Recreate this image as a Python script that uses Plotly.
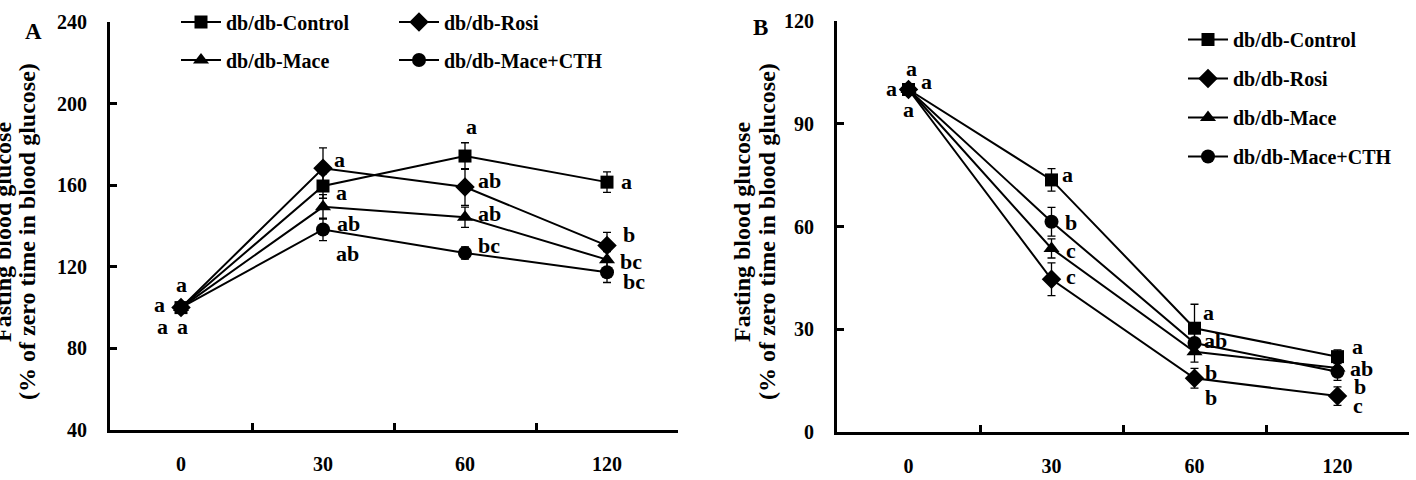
import plotly.graph_objects as go

W, H = 1416, 480
FONT = "Liberation Serif"

times = ["0", "30", "60", "120"]
series = ["db/db-Control", "db/db-Rosi", "db/db-Mace", "db/db-Mace+CTH"]
symbols = ["square", "diamond", "triangle-up", "circle"]
msizes = [13, 15, 14, 14]

# Panel A values (% of zero time)
a_control = [100, 159.6, 174.3, 161.5]
a_rosi = [100, 168.3, 159.1, 130.4]
a_mace = [100, 149.4, 144.3, 123.5]
a_cth = [100, 138.3, 126.8, 117.3]
a_err_control = [0, 6, 6.5, 5]
a_err_rosi = [0, 10, 9, 6.5]
a_err_mace = [0, 6, 5, 4]
a_err_cth = [0, 5.5, 3, 5]

# Panel B values (% of zero time)
b_control = [100, 73.6, 30.3, 22.0]
b_rosi = [100, 44.6, 15.7, 10.5]
b_mace = [100, 53.6, 23.4, 18.7]
b_cth = [100, 61.4, 26.0, 17.6]
b_err_control = [0, 3.3, 7, 2]
b_err_rosi = [0, 4.8, 2.9, 2.7]
b_err_mace = [0, 2.8, 3, 2]
b_err_cth = [0, 4.2, 3, 2.5]

# significance letters
a_letters = [["a", "a", "a", "a"], ["a", "a", "ab", "b"], ["a", "ab", "ab", "bc"], ["a", "ab", "bc", "bc"]]
b_letters = [["a", "a", "a", "a"], ["a", "c", "b", "c"], ["a", "c", "b", "b"], ["a", "b", "ab", "ab"]]

# letter offsets (px, dy downward) relative to each point
a_off = [[(0, -23), (18, 6), (6, -30), (19, -1)],
         [(-22, -3), (16, -9), (24, -7), (22, -11)],
         [(-19, 19), (25, 17), (24, -4), (24, 2)],
         [(1, 19), (24, 24), (24, -7), (27, 9)]]
b_off = [[(3, -21), (16, -5), (14, -16), (20, -10)],
         [(18, -8), (19, -3), (16, 19), (20, 9)],
         [(-17, -1), (19, 2), (16, 21), (22, 19)],
         [(0, 20), (19, 1), (21, -2), (24, -3)]]

a_vals = [a_control, a_rosi, a_mace, a_cth]
a_errs = [a_err_control, a_err_rosi, a_err_mace, a_err_cth]
b_vals = [b_control, b_rosi, b_mace, b_cth]
b_errs = [b_err_control, b_err_rosi, b_err_mace, b_err_cth]

fig = go.Figure()

a_legends = ["legend", "legend", "legend2", "legend2"]
for i in range(4):
    fig.add_trace(go.Scatter(
        x=times, y=a_vals[i], name=series[i], mode="lines+markers",
        xaxis="x", yaxis="y", legend=a_legends[i],
        line=dict(color="black", width=2),
        marker=dict(symbol=symbols[i], size=msizes[i], color="black"),
        error_y=dict(type="data", array=a_errs[i], color="black", thickness=1.3, width=4),
    ))
for i in range(4):
    fig.add_trace(go.Scatter(
        x=times, y=b_vals[i], name=series[i], mode="lines+markers",
        xaxis="x2", yaxis="y2", legend="legend3", legendgroup="b%d" % i,
        line=dict(color="black", width=2),
        marker=dict(symbol=symbols[i], size=msizes[i], color="black"),
        error_y=dict(type="data", array=b_errs[i], color="black", thickness=1.3, width=4),
    ))

tickfont = dict(family=FONT, size=20, color="black", weight="bold")

def xax(domain):
    return dict(domain=domain, type="category", categoryorder="array", categoryarray=times,
                range=[-0.5, 3.5], tickson="boundaries", ticks="inside", ticklen=7, tickwidth=2.5,
                tickcolor="black", showline=True, linewidth=3, linecolor="black",
                showgrid=False, zeroline=False, tickfont=tickfont, ticklabelstandoff=14,
                automargin=False)

def yax(domain, rng, dtick, anchor):
    return dict(domain=domain, range=rng, dtick=dtick, tick0=rng[0], ticks="inside", ticklen=7,
                tickwidth=2.5, tickcolor="black", showline=True, linewidth=3, linecolor="black",
                showgrid=False, zeroline=False, tickfont=tickfont, anchor=anchor,
                ticklabelstandoff=16, automargin=False)

legfont = dict(family=FONT, size=20, color="black", weight="bold")

fig.update_layout(
    width=W, height=H, margin=dict(l=0, r=0, t=0, b=0, autoexpand=False),
    paper_bgcolor="white", plot_bgcolor="white",
    xaxis=xax([110 / W, 678 / W]) | dict(anchor="y"),
    yaxis=yax([1 - 430 / H, 1 - 22 / H], [40, 240], 40, "x"),
    xaxis2=xax([837 / W, 1409 / W]) | dict(anchor="y2"),
    yaxis2=yax([1 - 432 / H, 1 - 21 / H], [0, 120], 30, "x2"),
    legend=dict(orientation="h", x=176 / W, y=1 - 22 / H, xanchor="left", yanchor="middle",
                font=legfont, itemwidth=40, entrywidth=163, entrywidthmode="pixels",
                bgcolor="rgba(0,0,0,0)"),
    legend2=dict(orientation="h", x=176 / W, y=1 - 60 / H, xanchor="left", yanchor="middle",
                 font=legfont, itemwidth=40, entrywidth=163, entrywidthmode="pixels",
                 bgcolor="rgba(0,0,0,0)"),
    legend3=dict(orientation="v", x=1183 / W, y=1 - 20 / H, xanchor="left", yanchor="top",
                 font=legfont, itemwidth=40, tracegroupgap=10, bgcolor="rgba(0,0,0,0)"),
    showlegend=True,
)

ann = []
letfont = dict(family=FONT, size=22, color="black", weight="bold")
for i in range(4):
    for j in range(4):
        dx, dy = a_off[i][j]
        ann.append(dict(x=j, y=a_vals[i][j], xref="x", yref="y", text=a_letters[i][j],
                        showarrow=False, xshift=dx, yshift=-dy, font=letfont,
                        xanchor="center", yanchor="middle", height=17))
        dx, dy = b_off[i][j]
        ann.append(dict(x=j, y=b_vals[i][j], xref="x2", yref="y2", text=b_letters[i][j],
                        showarrow=False, xshift=dx, yshift=-dy, font=letfont,
                        xanchor="center", yanchor="middle", height=17))

panfont = dict(family=FONT, size=23, color="black", weight="bold")
ann.append(dict(x=33 / W, y=1 - 32 / H, xref="paper", yref="paper", text="A", showarrow=False,
                font=panfont, xanchor="center", yanchor="middle"))
ann.append(dict(x=760 / W, y=1 - 27 / H, xref="paper", yref="paper", text="B", showarrow=False,
                font=panfont, xanchor="center", yanchor="middle"))

titfont = dict(family=FONT, size=24, color="black", weight="bold")
for cx, txt in [(3, "Fasting blood glucose"), (27, "(% of zero time in blood glucose)"),
                (742, "Fasting blood glucose"), (767, "(% of zero time in blood glucose)")]:
    ann.append(dict(x=cx / W, y=1 - 232 / H, xref="paper", yref="paper", text=txt, textangle=-90,
                    showarrow=False, font=titfont, xanchor="center", yanchor="middle"))

fig.update_layout(annotations=ann)
fig.write_html("out.html")
